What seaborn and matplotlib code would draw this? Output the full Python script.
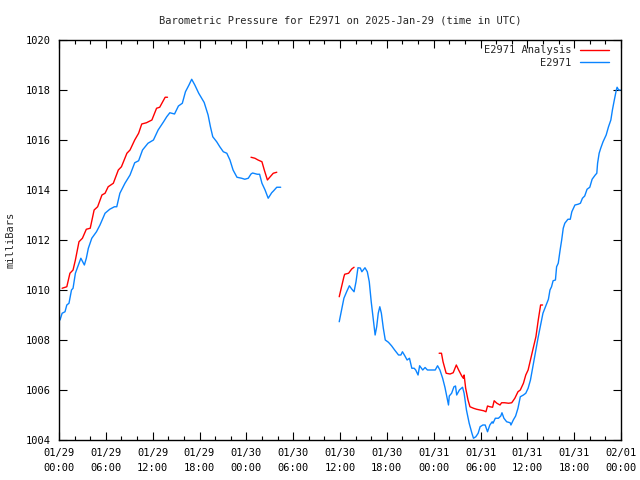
import numpy as np
import pandas as pd
import matplotlib
matplotlib.use("Agg")
import matplotlib.pyplot as plt
import seaborn as sns

START = pd.Timestamp("2025-01-29 00:00")

# hours after 01/29 00:00 UTC, pressure in mb
ana_seg1_h = [0.4, 1.0, 1.4, 1.8, 2.1, 2.56, 3.0, 3.5, 4.0, 4.5, 4.95, 5.5, 5.9, 6.3,
              6.96, 7.6, 8.0, 8.7, 9.1, 9.7, 10.2, 10.6, 11.2, 11.9, 12.5, 12.9, 13.6, 13.9]
ana_seg1_p = [1010.07, 1010.13, 1010.67, 1010.8, 1011.2, 1011.93, 1012.07, 1012.43, 1012.47,
              1013.2, 1013.33, 1013.8, 1013.87, 1014.13, 1014.27, 1014.8, 1014.93, 1015.47,
              1015.6, 1016.0, 1016.27, 1016.64, 1016.69, 1016.8, 1017.27, 1017.31, 1017.71, 1017.71]

ana_seg2_h = [24.6, 25.1, 25.5, 26.0, 26.3, 26.7, 27.0, 27.45, 27.9]
ana_seg2_p = [1015.31, 1015.27, 1015.2, 1015.13, 1014.8, 1014.4, 1014.51, 1014.67, 1014.71]

ana_seg3_h = [35.9, 36.2, 36.5, 36.6, 37.1, 37.5, 37.8]
ana_seg3_p = [1009.73, 1010.13, 1010.53, 1010.63, 1010.67, 1010.84, 1010.91]

ana_seg4_h = [48.7, 49.0, 49.2, 49.6, 50.1, 50.5, 50.9, 51.2, 51.6, 51.8, 51.9, 52.1, 52.4,
              52.65, 53.1, 53.5, 53.95, 54.4, 54.7, 54.9, 55.2, 55.55, 55.75, 56.1, 56.5,
              56.7, 57.1, 57.6, 58.0, 58.4, 58.8, 59.1, 59.5, 59.8, 60.1, 60.4, 60.75, 61.1,
              61.4, 61.7, 61.95]
ana_seg4_p = [1007.47, 1007.47, 1007.13, 1006.67, 1006.64, 1006.69, 1007.0, 1006.8, 1006.56,
              1006.47, 1006.6, 1006.07, 1005.6, 1005.33, 1005.27, 1005.23, 1005.2, 1005.17,
              1005.13, 1005.36, 1005.33, 1005.31, 1005.57, 1005.47, 1005.4, 1005.49, 1005.49,
              1005.47, 1005.49, 1005.67, 1005.93, 1006.0, 1006.27, 1006.6, 1006.8, 1007.2,
              1007.67, 1008.13, 1008.8, 1009.4, 1009.4]

obs_seg1_h = [0.13, 0.4, 0.77, 1.0, 1.28, 1.6, 1.8, 2.1, 2.4, 2.8, 3.25, 3.5, 3.76, 4.2, 4.8,
              5.25, 5.9, 6.5, 7.1, 7.4, 7.8, 8.45, 9.1, 9.7, 10.2, 10.7, 11.4, 12.1, 12.7,
              13.4, 13.8, 14.2, 14.8, 15.3, 15.8, 16.2, 16.65, 17.0, 17.4, 17.9, 18.6, 19.1,
              19.4, 19.7, 20.2, 20.6, 21.05, 21.5, 21.9, 22.3, 22.8, 23.4, 23.8, 24.25, 24.6,
              24.8, 25.4, 25.7, 26.0, 26.4, 26.8, 27.25, 27.5, 27.9, 28.4]
obs_seg1_p = [1008.8, 1009.07, 1009.13, 1009.4, 1009.47, 1010.0, 1010.07, 1010.67, 1010.93,
              1011.27, 1011.0, 1011.27, 1011.67, 1012.07, 1012.33, 1012.6, 1013.07, 1013.23,
              1013.33, 1013.33, 1013.87, 1014.27, 1014.6, 1015.09, 1015.17, 1015.6, 1015.87,
              1016.0, 1016.4, 1016.73, 1016.93, 1017.09, 1017.04, 1017.36, 1017.47, 1017.93,
              1018.2, 1018.43, 1018.2, 1017.87, 1017.5, 1017.0, 1016.53, 1016.13, 1015.93,
              1015.73, 1015.53, 1015.47, 1015.2, 1014.8, 1014.51, 1014.47, 1014.43, 1014.47,
              1014.64, 1014.68, 1014.63, 1014.63, 1014.27, 1014.0, 1013.67, 1013.89, 1013.97,
              1014.11, 1014.11]

obs_seg2_h = [35.9, 36.2, 36.5, 36.85, 37.2, 37.5, 37.8, 38.05, 38.3, 38.6, 38.8, 39.2, 39.5,
              39.75, 40.0, 40.3, 40.5, 40.7, 40.9, 41.1, 41.3, 41.55, 41.8, 42.2, 42.6, 43.0,
              43.5, 43.8, 44.0, 44.3, 44.6, 44.9, 45.2, 45.5, 45.7, 46.0, 46.2, 46.6, 46.9,
              47.2, 47.5, 48.2, 48.5, 48.8, 49.15, 49.45, 49.7, 49.9, 50.0, 50.3, 50.6, 50.8,
              50.95, 51.3, 51.7, 51.9, 52.2, 52.55, 52.9, 53.1, 53.4, 53.7, 53.95, 54.3, 54.6,
              54.9, 55.2, 55.5, 55.6, 55.9, 56.3, 56.6, 56.75, 57.0, 57.35, 57.8, 57.9, 58.2,
              58.5, 58.8, 59.1, 59.5, 59.8, 60.1, 60.4, 60.75, 61.1, 61.4, 61.7, 62.0, 62.5,
              62.7, 62.9, 63.1, 63.3, 63.6, 63.75, 63.96, 64.2, 64.4, 64.6, 64.8, 65.2, 65.5,
              65.7, 66.1, 66.5, 66.8, 67.06, 67.35, 67.65, 68.0, 68.3, 68.7, 68.9, 69.0, 69.2,
              69.4, 69.7, 70.1, 70.4, 70.7, 70.9, 71.1, 71.4, 71.5, 71.7, 71.9]
obs_seg2_p = [1008.73, 1009.2, 1009.67, 1009.93, 1010.17, 1010.04, 1009.93, 1010.33, 1010.89,
              1010.88, 1010.73, 1010.89, 1010.73, 1010.33, 1009.53, 1008.73, 1008.2, 1008.53,
              1009.07, 1009.33, 1009.07, 1008.47, 1008.0, 1007.91, 1007.77, 1007.6, 1007.4,
              1007.4, 1007.53, 1007.37, 1007.2, 1007.27, 1006.87, 1006.87, 1006.8, 1006.6,
              1006.97, 1006.8, 1006.9, 1006.8, 1006.8, 1006.8, 1006.97, 1006.8, 1006.47,
              1006.1, 1005.7, 1005.4, 1005.76, 1005.87, 1006.13, 1006.16, 1005.8, 1006.0,
              1006.11, 1005.87, 1005.2, 1004.67, 1004.27, 1004.07, 1004.13, 1004.27, 1004.53,
              1004.6, 1004.6, 1004.33, 1004.6, 1004.73, 1004.67, 1004.87, 1004.87, 1004.96,
              1005.09, 1004.87, 1004.73, 1004.69, 1004.6, 1004.8, 1004.96, 1005.27, 1005.73,
              1005.8, 1005.87, 1006.07, 1006.4, 1007.0, 1007.6, 1008.13, 1008.6, 1009.07,
              1009.47, 1009.63, 1010.0, 1010.13, 1010.37, 1010.4, 1010.93, 1011.07, 1011.6,
              1012.0, 1012.47, 1012.67, 1012.83, 1012.83, 1013.13, 1013.4, 1013.43, 1013.47,
              1013.67, 1013.76, 1014.03, 1014.11, 1014.43, 1014.6, 1014.67, 1015.07, 1015.47,
              1015.67, 1015.93, 1016.2, 1016.53, 1016.8, 1017.2, 1017.53, 1018.0, 1018.11,
              1018.0, 1018.0]

SERIES = ["E2971 Analysis", "E2971"]
COLORS = {"E2971 Analysis": "#ff0000", "E2971": "#0a84ff"}


def make_frame():
    parts = []
    segs = [
        (SERIES[0], ana_seg1_h, ana_seg1_p), (SERIES[0], ana_seg2_h, ana_seg2_p),
        (SERIES[0], ana_seg3_h, ana_seg3_p), (SERIES[0], ana_seg4_h, ana_seg4_p),
        (SERIES[1], obs_seg1_h, obs_seg1_p), (SERIES[1], obs_seg2_h, obs_seg2_p),
    ]
    for i, (name, hrs, pres) in enumerate(segs):
        parts.append(pd.DataFrame({
            "time": START + pd.to_timedelta(hrs, unit="h"),
            "pressure": pres,
            "series": name,
            "seg": i,
        }))
    return pd.concat(parts, ignore_index=True)


df = make_frame()

sns.set_theme(style="ticks")
plt.rcParams["font.family"] = ["DejaVu Sans Mono"]
plt.rcParams["font.size"] = 7

fig = plt.figure(figsize=(6.4, 4.8), dpi=100)
ax = fig.add_axes([59 / 640, 40 / 480, 562 / 640, 400 / 480])

sns.lineplot(data=df, x="time", y="pressure", hue="series", units="seg",
             estimator=None, palette=COLORS, hue_order=SERIES, lw=1, ax=ax,
             legend=False)

ax.set_xlim(START, START + pd.Timedelta(hours=72))
ax.set_ylim(1004, 1020)
ax.set_yticks(np.arange(1004, 1021, 2))

major = pd.date_range(START, periods=13, freq="6h")
ax.set_xticks(major, [t.strftime("%m/%d\n%H:%M") for t in major])
ax.set_xticks(pd.date_range(START, periods=37, freq="2h"), minor=True)
for lbl in ax.get_xticklabels():
    lbl.set_linespacing(1.6)

ax.tick_params(which="both", direction="in", top=True, right=True, colors="black",
               labelsize=7.5, width=0.8)
ax.tick_params(which="major", length=6)
ax.tick_params(which="minor", length=3)
ax.tick_params(axis="x", pad=6)
ax.tick_params(axis="y", pad=6)
for sp in ax.spines.values():
    sp.set_color("black")
    sp.set_linewidth(1)

ax.set_xlabel("")
ax.set_ylabel("milliBars", fontsize=7.5, labelpad=7)
ax.set_title("Barometric Pressure for E2971 on 2025-Jan-29 (time in UTC)",
             fontsize=7.5, pad=12)

handles = [plt.Line2D([], [], color=COLORS[s], lw=1) for s in SERIES]
ax.legend(handles, SERIES, loc="upper right", bbox_to_anchor=(1 - 7 / 562, 1),
          frameon=False, markerfirst=False, fontsize=7.5, handlelength=2.8,
          handletextpad=0.8, labelspacing=0.25, borderaxespad=0.1)

fig.savefig("out.png", dpi=100)
